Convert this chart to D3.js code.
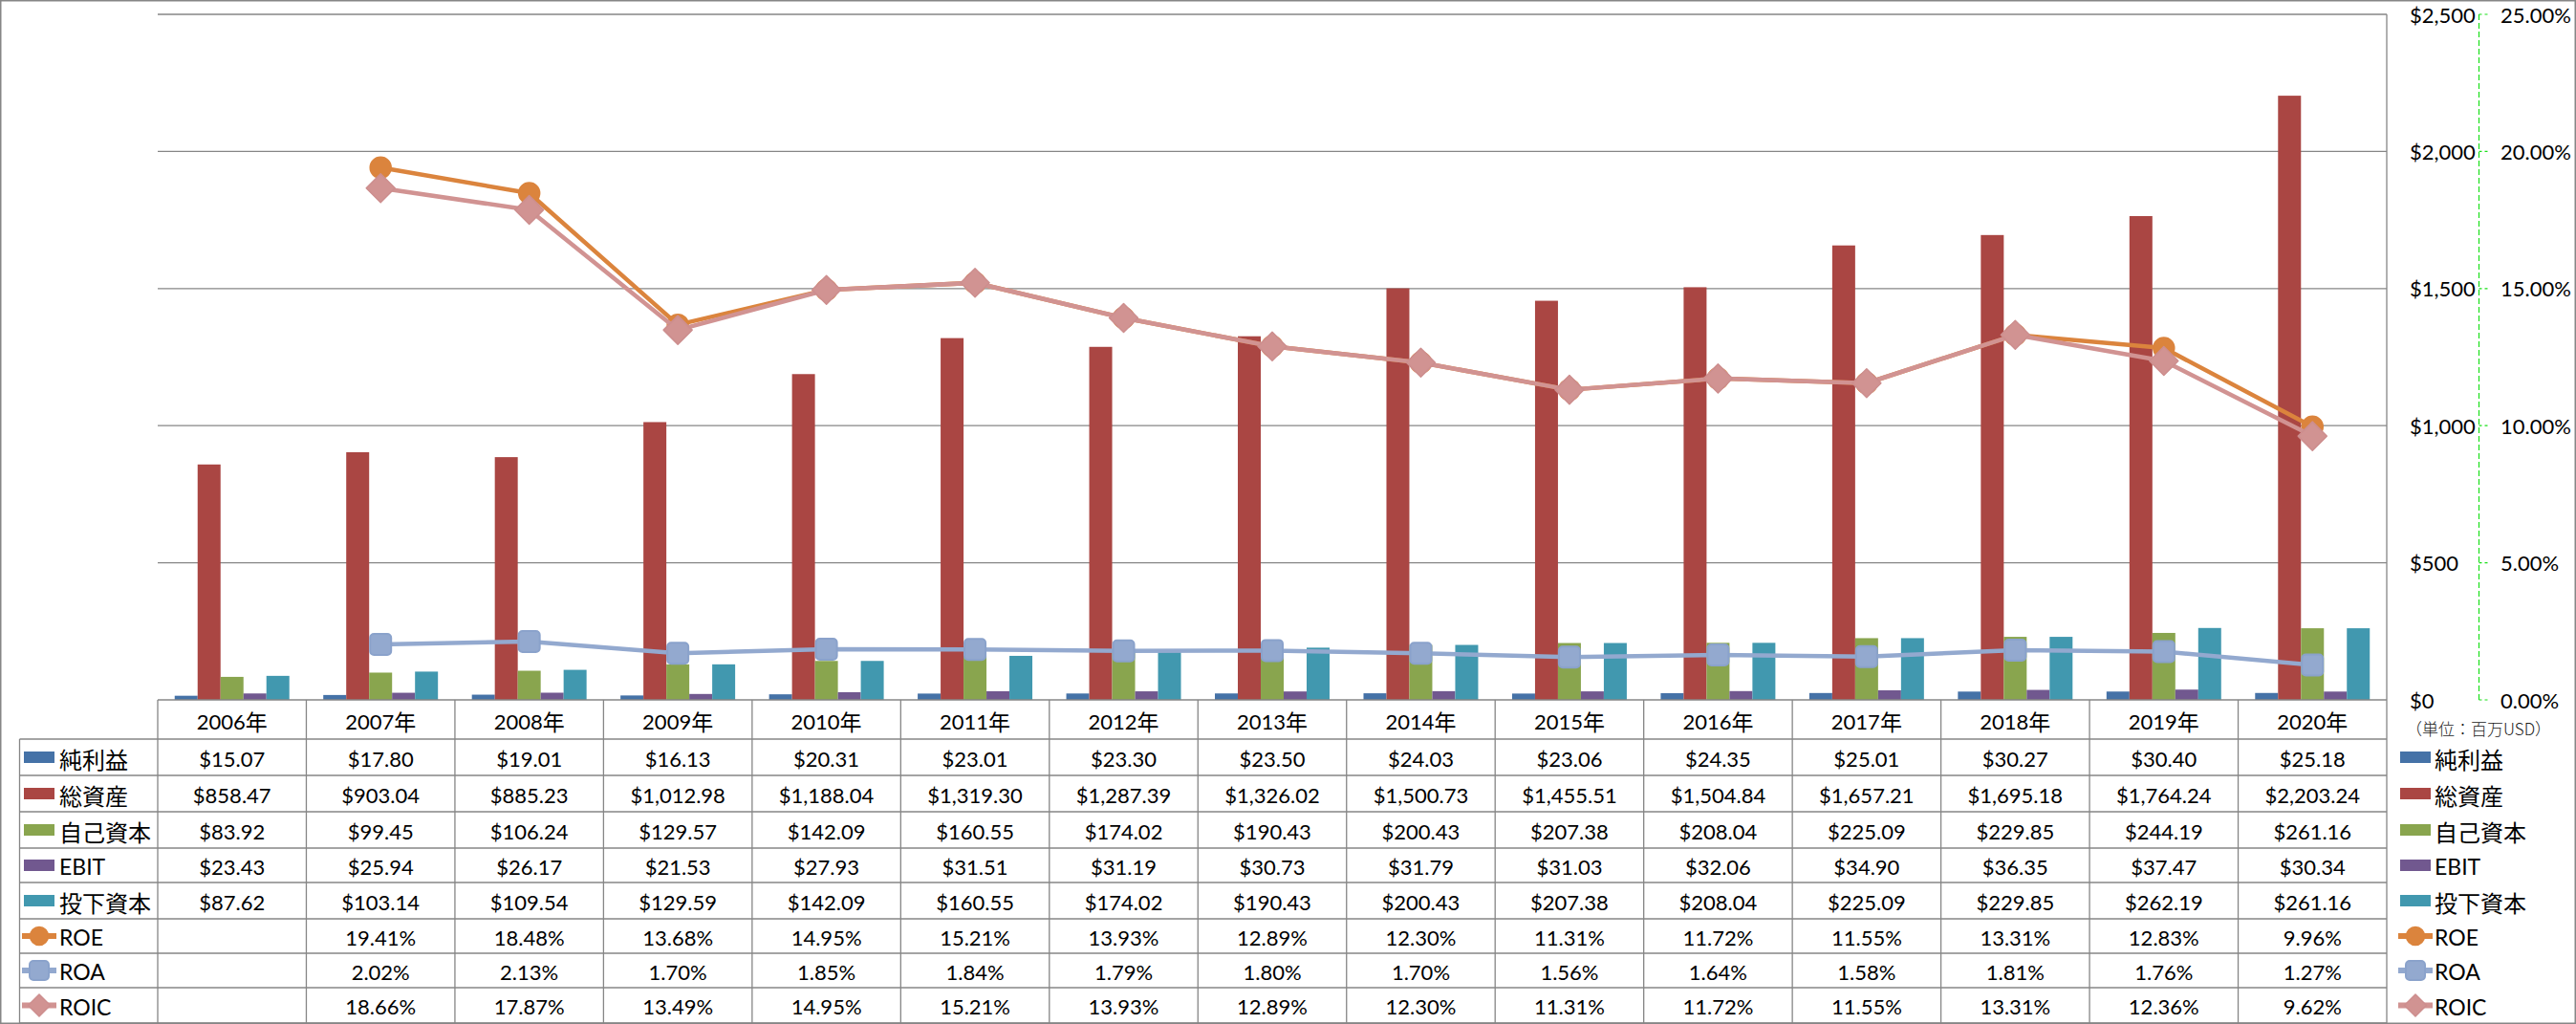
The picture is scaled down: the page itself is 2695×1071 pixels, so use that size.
<!DOCTYPE html>
<html><head><meta charset="utf-8">
<script src="https://cdn.jsdelivr.net/npm/d3@7"></script>
<style>html,body{margin:0;padding:0;background:#fff;} svg{display:block}</style>
</head><body><svg id="c" width="2695" height="1071"></svg>
<script>
// ---------------- data ----------------
const years = ['2006年','2007年','2008年','2009年','2010年','2011年','2012年','2013年','2014年','2015年','2016年','2017年','2018年','2019年','2020年'];
const netIncome = [15.07, 17.80, 19.01, 16.13, 20.31, 23.01, 23.30, 23.50, 24.03, 23.06, 24.35, 25.01, 30.27, 30.40, 25.18];
const totalAssets = [858.47, 903.04, 885.23, 1012.98, 1188.04, 1319.30, 1287.39, 1326.02, 1500.73, 1455.51, 1504.84, 1657.21, 1695.18, 1764.24, 2203.24];
const equity = [83.92, 99.45, 106.24, 129.57, 142.09, 160.55, 174.02, 190.43, 200.43, 207.38, 208.04, 225.09, 229.85, 244.19, 261.16];
const ebit = [23.43, 25.94, 26.17, 21.53, 27.93, 31.51, 31.19, 30.73, 31.79, 31.03, 32.06, 34.90, 36.35, 37.47, 30.34];
const investedCapital = [87.62, 103.14, 109.54, 129.59, 142.09, 160.55, 174.02, 190.43, 200.43, 207.38, 208.04, 225.09, 229.85, 262.19, 261.16];
const roe = [null, 19.41, 18.48, 13.68, 14.95, 15.21, 13.93, 12.89, 12.30, 11.31, 11.72, 11.55, 13.31, 12.83, 9.96];
const roa = [null, 2.02, 2.13, 1.70, 1.85, 1.84, 1.79, 1.80, 1.70, 1.56, 1.64, 1.58, 1.81, 1.76, 1.27];
const roic = [null, 18.66, 17.87, 13.49, 14.95, 15.21, 13.93, 12.89, 12.30, 11.31, 11.72, 11.55, 13.31, 12.36, 9.62];
const leftTicks = [0, 500, 1000, 1500, 2000, 2500];
const rightTicks = [0, 5, 10, 15, 20, 25];
const unitLabel = '（単位：百万USD）';

const barSeries = [
  {name:'純利益', values:netIncome, color:'#4572A7'},
  {name:'総資産', values:totalAssets, color:'#AA4643'},
  {name:'自己資本', values:equity, color:'#89A54E'},
  {name:'EBIT', values:ebit, color:'#71588F'},
  {name:'投下資本', values:investedCapital, color:'#4198AF'}
];
const lineSeries = [
  {name:'ROE', values:roe, color:'#DB843D', stroke:'#DB843D', marker:'circle'},
  {name:'ROA', values:roa, color:'#93A9CF', stroke:'#8AA2CB', marker:'square'},
  {name:'ROIC', values:roic, color:'#D19392', stroke:'#CD8E8E', marker:'diamond'}
];

// ---------------- layout ----------------
const P = {left:165, right:2497, top:15, bottom:732};
const rowLines = [773, 811, 849, 887, 923, 961, 997, 1033, 1070];
const tableLeft = 20.5;
const gridColor = '#868686';
const latin = "Lato, 'Noto Sans CJK JP', sans-serif";
const cjk = "'Noto Sans CJK JP', sans-serif";

const svg = d3.select('#c');

const x0 = d3.scaleBand().domain(years).range([P.left, P.right]).paddingInner(0).paddingOuter(0);
const x1 = d3.scaleBand().domain(barSeries.map(s=>s.name)).range([0, x0.bandwidth()]).paddingInner(0).paddingOuter(0.74);
const y = d3.scaleLinear().domain([0, 2500]).range([P.bottom, P.top]);
const y2 = d3.scaleLinear().domain([0, 25]).range([P.bottom, P.top]);

function rich(sel, str, lsize, csize) {
  const re = /[\u3000-\u30ff\u4e00-\u9fff\uff00-\uffef]/;
  const parts = str.split(/([\u3000-\u30ff\u4e00-\u9fff\uff00-\uffef]+)/).filter(s => s.length);
  parts.forEach(p => {
    const isC = re.test(p);
    sel.append('tspan').text(p)
      .attr('font-family', isC ? cjk : latin)
      .attr('font-size', isC ? csize : lsize);
  });
}

function marker(g, type, cx, cy, s, fill, stroke) {
  if (type === 'circle') {
    g.append('circle').attr('cx', cx).attr('cy', cy).attr('r', s)
      .attr('fill', fill).attr('stroke', stroke).attr('stroke-width', 1.5);
  } else if (type === 'square') {
    g.append('rect').attr('x', cx - s).attr('y', cy - s).attr('width', 2*s).attr('height', 2*s)
      .attr('rx', 4).attr('fill', fill).attr('stroke', stroke).attr('stroke-width', 2);
  } else {
    const d = `M${cx},${cy - s}L${cx + s},${cy}L${cx},${cy + s}L${cx - s},${cy}Z`;
    g.append('path').attr('d', d).attr('fill', fill).attr('stroke', stroke)
      .attr('stroke-width', 1.5).attr('stroke-linejoin', 'round');
  }
}
const markerSize = {circle:11, square:11, diamond:15};
const legendMarkerSize = {circle:9.5, square:10, diamond:11.5};

// ---------------- gridlines ----------------
svg.append('g').selectAll('line').data(leftTicks.filter(t => t > 0)).join('line')
  .attr('x1', P.left).attr('x2', P.right)
  .attr('y1', d => y(d)).attr('y2', d => y(d))
  .attr('stroke', gridColor).attr('stroke-width', 1.3);

// right edge of plot (primary axis line)
svg.append('line').attr('x1', P.right).attr('x2', P.right).attr('y1', P.top).attr('y2', P.bottom)
  .attr('stroke', gridColor).attr('stroke-width', 1.3);

// ---------------- bars ----------------
const barG = svg.append('g');
barSeries.forEach(s => {
  barG.append('g').selectAll('rect').data(s.values).join('rect')
    .attr('x', (d, i) => x0(years[i]) + x1(s.name))
    .attr('width', x1.bandwidth())
    .attr('y', d => y(d))
    .attr('height', d => y(0) - y(d))
    .attr('fill', s.color);
});

// ---------------- lines ----------------
const cx = i => x0(years[i]) + x0.bandwidth() / 2;
const lineGen = d3.line().defined(d => d != null).x((d, i) => cx(i)).y(d => y2(d));
lineSeries.forEach(s => {
  const g = svg.append('g');
  g.append('path').attr('d', lineGen(s.values)).attr('fill', 'none')
    .attr('stroke', s.color).attr('stroke-width', 4.5).attr('stroke-linejoin', 'round');
  s.values.forEach((v, i) => {
    if (v == null) return;
    marker(g, s.marker, cx(i), y2(v), markerSize[s.marker], s.color, s.stroke);
  });
});

// ---------------- axes ----------------
const axG = svg.append('g');
axG.selectAll('text.l').data(leftTicks).join('text').attr('class', 'l')
  .attr('x', 2521).attr('y', d => y(d)).attr('dominant-baseline', 'central')
  .attr('font-family', latin).attr('font-size', 22).attr('fill', '#000')
  .text(d => d3.format('$,')(d));
axG.selectAll('text.r').data(rightTicks).join('text').attr('class', 'r')
  .attr('x', 2616).attr('y', d => y2(d)).attr('dominant-baseline', 'central')
  .attr('font-family', latin).attr('font-size', 22).attr('fill', '#000')
  .text(d => d.toFixed(2) + '%');
// secondary axis line (green dashed)
axG.append('line').attr('x1', 2593.5).attr('x2', 2593.5).attr('y1', y2(25)).attr('y2', y2(0))
  .attr('stroke', '#19E019').attr('stroke-width', 1.2).attr('stroke-dasharray', '6,3');
axG.selectAll('line.t').data(rightTicks).join('line').attr('class', 't')
  .attr('x1', 2593.5).attr('x2', 2603).attr('y1', d => y2(d)).attr('y2', d => y2(d))
  .attr('stroke', '#19E019').attr('stroke-width', 1.2).attr('stroke-dasharray', '3,3');

// unit label
const ut = svg.append('text').attr('x', 2517).attr('y', 761).attr('dominant-baseline', 'central')
  .attr('fill', '#222').attr('font-weight', 300);
ut.append('tspan').text(unitLabel).attr('font-family', cjk).attr('font-size', 17);

// ---------------- data table ----------------
const tG = svg.append('g');
// horizontal lines
tG.append('line').attr('x1', P.left).attr('x2', P.right).attr('y1', P.bottom).attr('y2', P.bottom)
  .attr('stroke', gridColor).attr('stroke-width', 1.3);
rowLines.forEach(ry => {
  tG.append('line').attr('x1', tableLeft).attr('x2', P.right).attr('y1', ry).attr('y2', ry)
    .attr('stroke', gridColor).attr('stroke-width', 1.3);
});
// vertical lines
tG.append('line').attr('x1', tableLeft).attr('x2', tableLeft).attr('y1', rowLines[0]).attr('y2', rowLines[rowLines.length-1])
  .attr('stroke', gridColor).attr('stroke-width', 1.3);
years.forEach((yr, i) => {
  tG.append('line').attr('x1', x0(yr)).attr('x2', x0(yr)).attr('y1', P.bottom).attr('y2', rowLines[rowLines.length-1])
    .attr('stroke', gridColor).attr('stroke-width', 1.3);
});
tG.append('line').attr('x1', P.right).attr('x2', P.right).attr('y1', P.bottom).attr('y2', rowLines[rowLines.length-1])
  .attr('stroke', gridColor).attr('stroke-width', 1.3);

// header
years.forEach((yr, i) => {
  const t = tG.append('text').attr('x', cx(i)).attr('y', (P.bottom + rowLines[0]) / 2 + 1)
    .attr('text-anchor', 'middle').attr('dominant-baseline', 'central').attr('fill', '#000');
  rich(t, yr, 22, 23);
});

const fmtMoney = d3.format('$,.2f');
const allRows = [
  ...barSeries.map(s => ({s, kind:'bar', fmt:v => fmtMoney(v)})),
  ...lineSeries.map(s => ({s, kind:'line', fmt:v => v.toFixed(2) + '%'}))
];
allRows.forEach((r, k) => {
  const top = rowLines[k], bot = rowLines[k + 1], cy = (top + bot) / 2;
  r.s.values.forEach((v, i) => {
    if (v == null) return;
    tG.append('text').attr('x', cx(i)).attr('y', cy + 1).attr('text-anchor', 'middle')
      .attr('dominant-baseline', 'central').attr('font-family', latin).attr('font-size', 22)
      .attr('fill', '#000').text(r.fmt(v));
  });
  // legend keys: left (in table) and right
  [{kx:41, tx:62}, {kx:2527, tx:2547}].forEach(pos => {
    if (r.kind === 'bar') {
      tG.append('rect').attr('x', pos.kx - 16).attr('y', cy - 6).attr('width', 32).attr('height', 12)
        .attr('fill', r.s.color);
    } else {
      tG.append('line').attr('x1', pos.kx - 18).attr('x2', pos.kx + 18).attr('y1', cy).attr('y2', cy)
        .attr('stroke', r.s.color).attr('stroke-width', 6);
      marker(tG, r.s.marker, pos.kx, cy, legendMarkerSize[r.s.marker], r.s.color, r.s.stroke);
    }
    const t = tG.append('text').attr('x', pos.tx).attr('y', cy + 1).attr('dominant-baseline', 'central')
      .attr('fill', '#000');
    rich(t, r.s.name, 23, 24);
  });
});

// outer border
svg.append('rect').attr('x', 0.75).attr('y', 0.75).attr('width', 2693.5).attr('height', 1069.5)
  .attr('fill', 'none').attr('stroke', gridColor).attr('stroke-width', 1.5);
</script>
</body></html>
